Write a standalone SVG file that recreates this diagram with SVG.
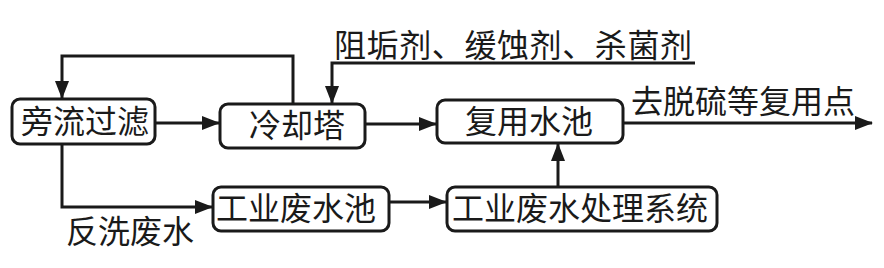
<svg xmlns="http://www.w3.org/2000/svg" width="884" height="268" viewBox="0 0 884 268">
<style>
.box{fill:#fff;stroke:#1a1a1a;stroke-width:3}
.t{font-family:"Noto Sans CJK SC","Noto Sans",sans-serif;font-size:32px;fill:#1a1a1a;text-anchor:middle}
.l{font-family:"Noto Sans CJK SC","Noto Sans",sans-serif;font-size:32px;fill:#1a1a1a}
.c{fill:none;stroke:#1a1a1a;stroke-width:3}
</style>
<defs>
<marker id="a" markerUnits="userSpaceOnUse" markerWidth="18" markerHeight="14" refX="17" refY="7" orient="auto">
<path d="M0,0 L18,7 L0,14 Z" fill="#1a1a1a"/>
</marker>
</defs>
<rect width="884" height="268" fill="#fff"/>
<g id="connectors">
<path class="c" d="M155,123 H219" marker-end="url(#a)"/>
<path class="c" d="M293,104 V56 H62 V98" marker-end="url(#a)"/>
<path class="c" d="M695,63 H332 V103" marker-end="url(#a)"/>
<path class="c" d="M365,124 H436" marker-end="url(#a)"/>
<path class="c" d="M623,123 H872" marker-end="url(#a)"/>
<path class="c" d="M558,187 V144" marker-end="url(#a)"/>
<path class="c" d="M62,144 V207 H212" marker-end="url(#a)"/>
<path class="c" d="M389,202 H446" marker-end="url(#a)"/>
</g>
<g id="n1"><rect class="box" x="12" y="99" width="143" height="45" rx="8"/><text class="t" x="85" y="133">旁流过滤</text></g>
<g id="n2"><rect class="box" x="220" y="104" width="145" height="44" rx="8"/><text class="t" x="297" y="137">冷却塔</text></g>
<g id="n3"><rect class="box" x="437" y="100" width="186" height="43" rx="8"/><text class="t" x="529" y="133">复用水池</text></g>
<g id="n4"><rect class="box" x="213" y="187" width="176" height="44" rx="8"/><text class="t" x="296" y="220">工业废水池</text></g>
<g id="n5"><rect class="box" x="447" y="187" width="270" height="44" rx="8"/><text class="t" x="580" y="220">工业废水处理系统</text></g>
<text class="l" x="334" y="57" textLength="358">阻垢剂、缓蚀剂、杀菌剂</text>
<text class="l" x="631" y="113">去脱硫等复用点</text>
<text class="l" x="66" y="243">反洗废水</text>
</svg>
